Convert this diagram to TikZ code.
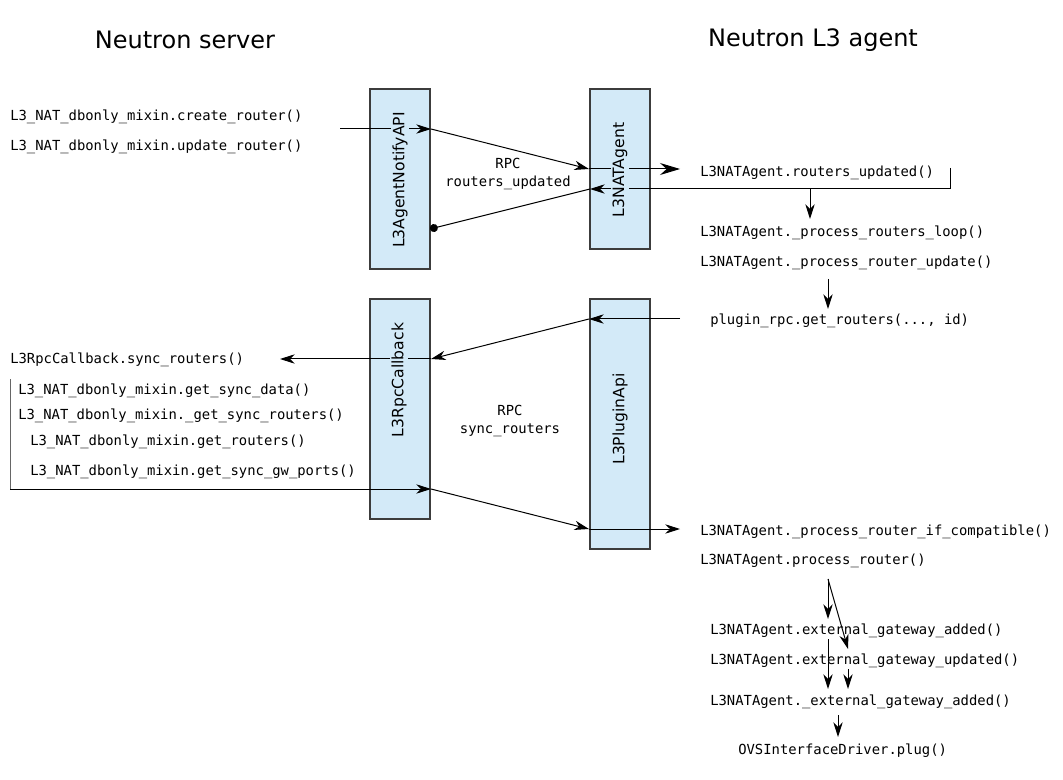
\documentclass[tikz,border=0pt]{standalone}
\usepackage{fontspec}
\setmainfont{DejaVu Sans}
\setmonofont{DejaVu Sans Mono}
\usetikzlibrary{arrows.meta, positioning, fit}
\definecolor{boxblue}{RGB}{211,234,248}
\definecolor{boxline}{RGB}{60,60,60}
\tikzstyle{title} = [font=\fontsize{18}{22}\selectfont]
\tikzstyle{apibox} = [rectangle, inner sep=0pt, fill=boxblue, draw=boxline, line width=1.5pt]
\tikzstyle{boxname} = [rotate=90, fill=boxblue, inner sep=1pt, font=\fontsize{11.7}{14}\selectfont]
\tikzstyle{call} = [anchor=west, inner sep=0pt, yshift=-1.5pt, font=\fontsize{10.4}{13.5}\ttfamily]
\tikzstyle{rpcname} = [align=center, inner sep=0pt, font=\fontsize{10.4}{13.5}\ttfamily]
\tikzstyle{arrow} = [line width=0.75pt,-{Stealth[length=11pt,width=7pt,inset=3.5pt]}]
\tikzstyle{bigarrow} = [line width=0.75pt,-{Stealth[length=15pt,width=9pt,inset=5pt]}]
\tikzstyle{dotline} = [line width=0.75pt,{Circle[length=6pt]}-]
\tikzstyle{bracket} = [line width=0.75pt, draw=black!60]

\begin{document}
\begin{tikzpicture}[x=0.75pt, y=-0.75pt]
\useasboundingbox (0,0) rectangle (1063,780);

\node (server) [title] at (185,40) {Neutron server};
\node (agent) [title] at (813,40) {Neutron L3 agent};

\node (notify) [apibox, fit={(370,89) (430,269)}] {};
\node (natagent) [apibox, fit={(590,89) (650,249)}] {};
\node (rpccb) [apibox, fit={(370,299) (430,519)}] {};
\node (pluginapi) [apibox, fit={(590,299) (650,549)}] {};

\node (create) [call] at (10,115) {L3\_NAT\_dbonly\_mixin.create\_router()};
\node (update) [call] at (10,145) {L3\_NAT\_dbonly\_mixin.update\_router()};
\node (updated) [call] at (700,171) {L3NATAgent.routers\_updated()};
\node (loop) [call] at (700,231) {L3NATAgent.\_process\_routers\_loop()};
\node (rupdate) [call] at (700,261) {L3NATAgent.\_process\_router\_update()};
\node (getrouters) [call] at (710,319) {plugin\_rpc.get\_routers(..., id)};
\node (sync) [call] at (10,358) {L3RpcCallback.sync\_routers()};
\node (syncdata) [call] at (18,389) {L3\_NAT\_dbonly\_mixin.get\_sync\_data()};
\node (syncrouters) [call] at (18,414) {L3\_NAT\_dbonly\_mixin.\_get\_sync\_routers()};
\node (dbrouters) [call] at (30,440) {L3\_NAT\_dbonly\_mixin.get\_routers()};
\node (gwports) [call] at (30,470) {L3\_NAT\_dbonly\_mixin.get\_sync\_gw\_ports()};
\node (compat) [call] at (700,530) {L3NATAgent.\_process\_router\_if\_compatible()};
\node (process) [call] at (700,559) {L3NATAgent.process\_router()};
\node (gwadded) [call] at (710,629) {L3NATAgent.external\_gateway\_added()};
\node (gwupdated) [call] at (710,659) {L3NATAgent.external\_gateway\_updated()};
\node (gwinner) [call] at (710,700) {L3NATAgent.\_external\_gateway\_added()};
\node (plug) [call] at (738,749) {OVSInterfaceDriver.plug()};

\node (castname) [rpcname] at (508,174) {RPC\\routers\_updated};
\node (syncname) [rpcname] at (510,421) {RPC\\sync\_routers};

\coordinate (callin) at (340,129);
\coordinate (cast) at (680,169);
\coordinate (ret) at (950,168);
\coordinate (retend) at (590,189);
\coordinate (retdot) at (430,229);
\coordinate (loopin) at (810,219);
\coordinate (rpcstart) at (828,279);
\coordinate (rpcin) at (680,319);
\coordinate (syncout) at (280,359);
\coordinate (dbtop) at (10,379);
\coordinate (dbbot) at (10,489);
\coordinate (reply) at (680,529);
\coordinate (fork) at (828,579);
\coordinate (forka) at (828,619);
\coordinate (forkb) at (848,649);
\coordinate (joina) at (828,639);
\coordinate (joinb) at (848,669);
\coordinate (joinend) at (828,689);
\coordinate (plugin) at (838,715);

% routers_updated cast
\draw [arrow] (callin) -- (notify.east |- callin);
\draw [arrow] (notify.east |- callin) -- (natagent.west |- cast);
\draw [bigarrow] (natagent.west |- cast) -- (cast);
\draw [arrow] (ret) |- (retend);
\draw [dotline] (retdot) -- (retend);
\draw [arrow] (loopin |- retend) -- (loopin);
\draw [arrow] (rpcstart) -- (rpcstart |- 0,309);

% sync_routers call
\draw [arrow] (rpcin) -- (pluginapi.west |- rpcin);
\draw [arrow] (pluginapi.west |- rpcin) -- (rpccb.east |- syncout);
\draw [arrow] (rpccb.east |- syncout) -- (syncout);
\draw [bracket] (dbtop) -- (dbbot);
\draw [arrow] (dbbot) -- (rpccb.east |- dbbot);
\draw [arrow] (rpccb.east |- dbbot) -- (pluginapi.west |- reply);
\draw [arrow] (pluginapi.west |- reply) -- (reply);

\draw [arrow] (fork) -- (forka);
\draw [arrow] (fork) -- (forkb);
\draw [arrow] (joina) -- (joinend);
\draw [arrow] (joinb) -- (joinb |- joinend);
\draw [arrow] (plugin) -- (plugin |- 0,737);

\node (notifyname) [boxname] at (400,180) {L3AgentNotifyAPI};
\node (natname) [boxname] at (620,170) {L3NATAgent};
\node (rpccbname) [boxname] at (399,380) {L3RpcCallback};
\node (pluginname) [boxname] at (620,419) {L3PluginApi};

\end{tikzpicture}
\end{document}
